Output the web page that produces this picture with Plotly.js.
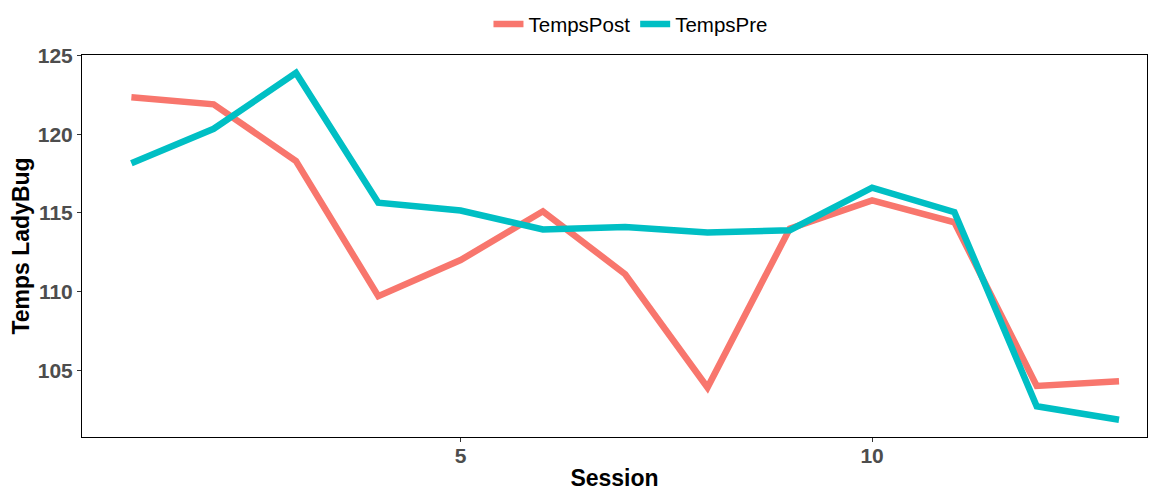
<!DOCTYPE html>
<html>
<head>
<meta charset="utf-8">
<script src="https://cdn.plot.ly/plotly-3.0.1.min.js"></script>
<style>html,body{margin:0;padding:0;background:#fff;}#chart{width:1158px;height:491px;}</style>
</head>
<body>
<div id="chart"></div>
<script>
const sessions = [1,2,3,4,5,6,7,8,9,10,11,12,13];
const tempsPost = [122.35,121.9,118.3,109.7,112.0,115.1,111.1,103.9,114.0,115.8,114.4,104.0,104.3];
const tempsPre  = [118.15,120.35,123.9,115.65,115.15,113.95,114.1,113.75,113.9,116.6,115.05,102.7,101.85];
const seriesNames = ["TempsPost","TempsPre"];
const seriesColors = ["#F8766D","#00BFC4"];

const traces = [
  {x: sessions, y: tempsPost, name: seriesNames[0], type: "scatter", mode: "lines",
   line: {color: seriesColors[0], width: 6.5}},
  {x: sessions, y: tempsPre, name: seriesNames[1], type: "scatter", mode: "lines",
   line: {color: seriesColors[1], width: 6.5}}
];

const tickFont = {family: "Liberation Sans, Arial, sans-serif", size: 21, color: "#4D4D4D", weight: "bold"};
const titleFont = {family: "Liberation Sans, Arial, sans-serif", size: 23, color: "#000000", weight: "bold"};

const layout = {
  width: 1158, height: 491,
  margin: {l: 82, r: 11, t: 55, b: 54, autoexpand: false},
  paper_bgcolor: "#ffffff", plot_bgcolor: "#ffffff",
  showlegend: true,
  legend: {orientation: "h", x: 0.515, xanchor: "center", y: 1.081, yanchor: "middle",
           bgcolor: "rgba(0,0,0,0)",
           font: {family: "Liberation Sans, Arial, sans-serif", size: 20.5, color: "#000"},
           itemwidth: 30, traceorder: "normal"},
  xaxis: {
    range: [0.4, 13.34], tickvals: [5, 10], ticktext: ["5", "10"],
    showgrid: false, zeroline: false, automargin: false,
    showline: true, linecolor: "#000", linewidth: 1, mirror: true,
    ticks: "outside", ticklen: 4, tickcolor: "#333", tickwidth: 1,
    ticklabelstandoff: -4,
    tickfont: tickFont,
    title: {text: "Session", font: titleFont, standoff: 6}
  },
  yaxis: {
    range: [100.75, 125.04], tickvals: [105, 110, 115, 120, 125],
    showgrid: false, zeroline: false, automargin: false,
    showline: true, linecolor: "#000", linewidth: 1, mirror: true,
    ticks: "outside", ticklen: 4, tickcolor: "#333", tickwidth: 1,
    tickfont: tickFont,
    title: {text: "Temps LadyBug", font: titleFont, standoff: 1}
  }
};

Plotly.newPlot("chart", traces, layout, {displayModeBar: false, staticPlot: true});
</script>
</body>
</html>
